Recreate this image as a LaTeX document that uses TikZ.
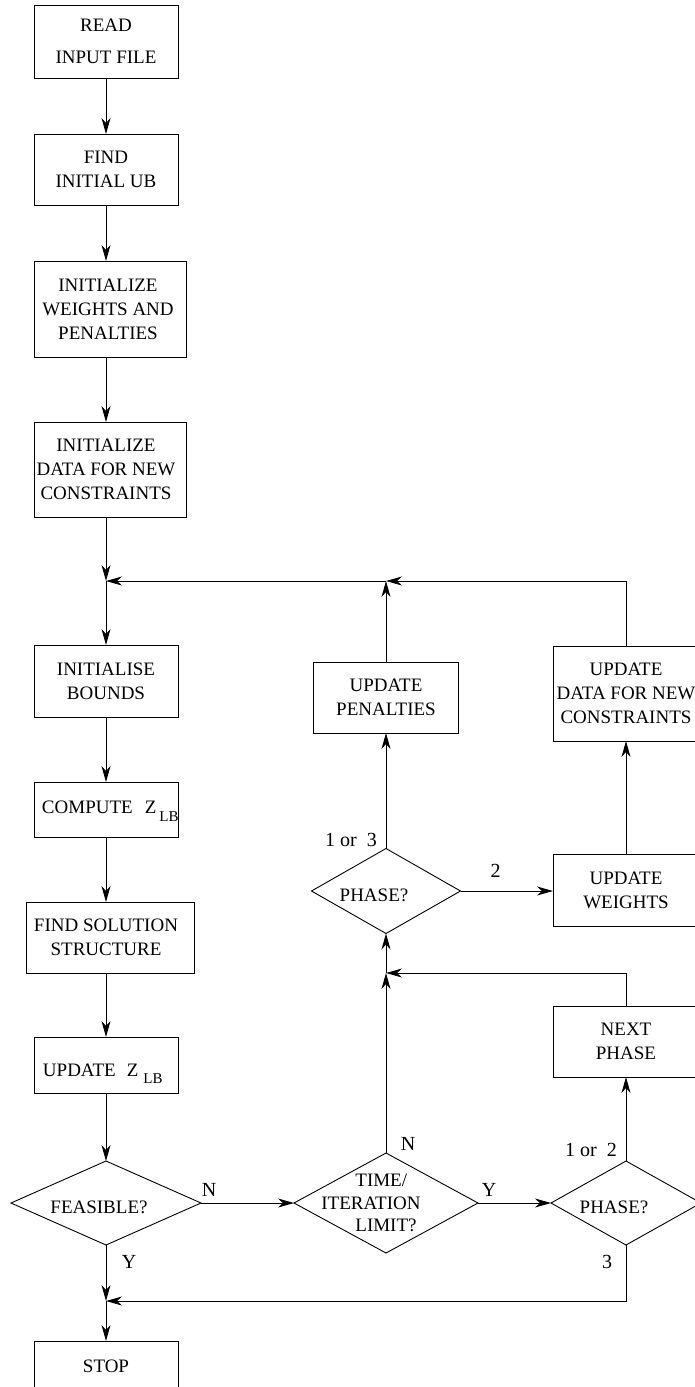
\documentclass[tikz,border=0pt]{standalone}
\usepackage{fontspec}
\setmainfont{Liberation Serif}
\usetikzlibrary{shapes.geometric,arrows.meta}
\begin{document}
\begin{tikzpicture}[x=1pt,y=-1pt,
  box/.style={draw, rectangle, inner sep=0pt, outer sep=0pt, align=center, font=\fontsize{19}{24}\selectfont},
  dia/.style={draw, diamond, inner sep=0pt, outer sep=0pt},
  dtext/.style={align=center, inner sep=0pt, font=\fontsize{19}{22}\selectfont},
  lbl/.style={inner sep=0pt, font=\fontsize{20}{22}\selectfont},
  arr/.style={-{Stealth[length=16pt,width=9pt,inset=5pt]}},
  line width=0.9pt]
\useasboundingbox (0,0) rectangle (695,1387);

% left column
\node[box, minimum width=144pt, minimum height=73pt] (read) at (106,41.5) {READ\\[8pt]INPUT FILE};
\node[box, minimum width=144pt, minimum height=71pt] (ub) at (106,169.5) {FIND\\INITIAL UB};
\node[box, minimum width=152pt, minimum height=96pt] (iwp) at (110,309) {\hspace*{-4pt}INITIALIZE\\\hspace*{-4pt}WEIGHTS AND\\\hspace*{-4pt}PENALTIES};
\node[box, minimum width=152pt, minimum height=95pt] (idn) at (110,469.5) {\hspace*{-8pt}INITIALIZE\\\hspace*{-8pt}DATA FOR NEW\\\hspace*{-8pt}CONSTRAINTS};
\coordinate (jL) at (106,581);
\node[box, minimum width=144pt, minimum height=72pt] (bounds) at (106,681) {INITIALISE\\BOUNDS};
\node[box, minimum width=144pt, minimum height=55pt] (comp) at (106,809.5) {\makebox[144pt][l]{\rule[-5.6pt]{0pt}{1pt}\hspace*{8pt}COMPUTE\hspace{12pt}Z\hspace{3pt}\raisebox{-8pt}[0pt][0pt]{\fontsize{15}{15}\selectfont LB}\hss}};
\node[box, minimum width=168pt, minimum height=71pt] (fss) at (110,937.5) {\hspace*{-8pt}FIND SOLUTION\\\hspace*{-8pt}STRUCTURE};
\node[box, minimum width=144pt, minimum height=56pt] (upd) at (106,1065) {\makebox[144pt][l]{\rule{0pt}{24pt}\hspace*{9pt}UPDATE\hspace{11pt}Z\hspace{5pt}\raisebox{-7pt}[0pt][0pt]{\fontsize{15}{15}\selectfont LB}\hss}};
\node[dia, minimum width=190pt, minimum height=84pt] (feas) at (106,1203) {};
\node[dtext] (feast) at ([xshift=-7pt,yshift=-4pt]feas.center) {FEASIBLE?};
\coordinate (jB) at (106,1301);
\node[box, minimum width=144pt, minimum height=50pt] (stop) at (106,1366) {STOP};

% middle column
\node[box, minimum width=145pt, minimum height=71pt] (pen) at (386,697.5) {UPDATE\\PENALTIES};
\coordinate (jT) at (386,581);
\node[dia, minimum width=149pt, minimum height=85pt] (ph1) at (386,891) {};
\node[dtext] (ph1t) at ([xshift=-12pt,yshift=-4.5pt]ph1.center) {PHASE?};
\coordinate (jM) at (386,973);
\node[dia, minimum width=184pt, minimum height=100pt] (time) at (386,1203) {};
\node[dtext, align=left, font=\fontsize{19}{22.5}\selectfont] (timet) at (371,1203) {\hspace*{34pt}TIME/\\ITERATION\\\hspace*{34pt}LIMIT?};

% right column
\node[box, minimum width=146pt, minimum height=95pt] (udn) at (626,693.5) {UPDATE\\DATA FOR NEW\\CONSTRAINTS};
\node[box, minimum width=146pt, minimum height=72pt] (uw) at (626,890) {UPDATE\\WEIGHTS};
\node[box, minimum width=146pt, minimum height=71pt] (np) at (626,1041.5) {NEXT\\PHASE};
\node[dia, minimum width=150pt, minimum height=84pt] (ph2) at (626,1203) {};
\node[dtext] (ph2t) at ([xshift=-12pt,yshift=-4pt]ph2.center) {PHASE?};

% labels
\node[lbl] (lN1) at (209,1190) {N};
\node[lbl] (lY1) at (489,1190) {Y};
\node[lbl] (lN2) at (408,1144) {N};
\node[lbl] (l12) at (591,1150) {1 or\hspace{10pt}2};
\node[lbl] (l3) at (607,1262) {3};
\node[lbl] (lY2) at (129,1262) {Y};
\node[lbl] (l13) at (351,840) {1 or\hspace{10pt}3};
\node[lbl] (l2) at (495.5,870.5) {2};

% connectors
\draw[arr] (read) -- (ub);
\draw[arr] (ub.south) -- (ub.south |- iwp.north);
\draw[arr] (iwp.south -| jL) -- (idn.north -| jL);
\draw[arr] (idn.south -| jL) -- (jL);
\draw[arr] (jL) -- (bounds);
\draw[arr] (bounds) -- (comp);
\draw[arr] (comp.south) -- (comp.south |- fss.north);
\draw[arr] (fss.south -| jL) -- (upd.north);
\draw[arr] (upd) -- (feas.north);
\draw[arr] (feas.east) -- (time.west);
\draw[arr] (time.east) -- (ph2.west);
\draw[arr] (feas.south) -- (jB);
\draw[arr] (jB) -- (stop);
\draw[arr] (ph2.south) |- (jB);
\draw[arr] (ph2.north) -- (np.south);
\draw[arr] (np.north) |- (jM);
\draw[arr] (time.north) -- (jM);
\draw[arr] (jM) -- (ph1.south);
\draw[arr] (ph1.north) -- (pen.south);
\draw[arr] (ph1.east) -- (ph1.east -| uw.west);
\draw[arr] (uw.north) -- (udn.south);
\draw[arr] (udn.north) |- (jT);
\draw[arr] (pen.north) -- (jT);
\draw[arr] (jT) -- (jL);
\end{tikzpicture}
\end{document}
